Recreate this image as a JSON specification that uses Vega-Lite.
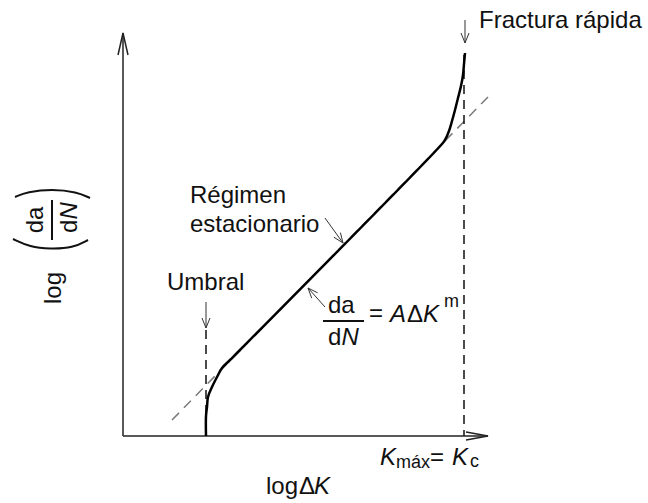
{
  "$schema": "https://vega.github.io/schema/vega-lite/v6.json",
  "width": 648,
  "height": 503,
  "autosize": {"type": "fit", "contains": "padding"},
  "padding": 0,
  "background": "white",
  "config": {"view": {"stroke": null}, "text": {"font": "Liberation Sans", "color": "#111"}},
  "datasets": {
    "paths": [
      {"kind": "curve", "id": "c", "i": 0, "u": 83, "v": 0},
      {"kind": "curve", "id": "c", "i": 1, "u": 83, "v": 20},
      {"kind": "curve", "id": "c", "i": 2, "u": 84, "v": 29},
      {"kind": "curve", "id": "c", "i": 3, "u": 85, "v": 39},
      {"kind": "curve", "id": "c", "i": 4, "u": 89, "v": 49},
      {"kind": "curve", "id": "c", "i": 5, "u": 94, "v": 59},
      {"kind": "curve", "id": "c", "i": 6, "u": 99, "v": 68},
      {"kind": "curve", "id": "c", "i": 7, "u": 107, "v": 76},
      {"kind": "curve", "id": "c", "i": 8, "u": 117, "v": 86},
      {"kind": "curve", "id": "c", "i": 9, "u": 319, "v": 292},
      {"kind": "curve", "id": "c", "i": 10, "u": 322, "v": 296},
      {"kind": "curve", "id": "c", "i": 11, "u": 326, "v": 305},
      {"kind": "curve", "id": "c", "i": 12, "u": 329, "v": 315},
      {"kind": "curve", "id": "c", "i": 13, "u": 332, "v": 326},
      {"kind": "curve", "id": "c", "i": 14, "u": 335, "v": 338},
      {"kind": "curve", "id": "c", "i": 15, "u": 338, "v": 350},
      {"kind": "curve", "id": "c", "i": 16, "u": 340, "v": 361},
      {"kind": "curve", "id": "c", "i": 17, "u": 341, "v": 372},
      {"kind": "curve", "id": "c", "i": 18, "u": 342, "v": 383},

      {"kind": "axis", "id": "yax", "i": 0, "u": 0, "v": 0},
      {"kind": "axis", "id": "yax", "i": 1, "u": 0, "v": 403},
      {"kind": "axis", "id": "yhead", "i": 0, "u": -5, "v": 381},
      {"kind": "axis", "id": "yhead", "i": 1, "u": 0, "v": 403},
      {"kind": "axis", "id": "yhead", "i": 2, "u": 5, "v": 381},
      {"kind": "axis", "id": "xax", "i": 0, "u": 0, "v": 0},
      {"kind": "axis", "id": "xax", "i": 1, "u": 365, "v": 0},
      {"kind": "axis", "id": "xhead", "i": 0, "u": 343, "v": 4},
      {"kind": "axis", "id": "xhead", "i": 1, "u": 365, "v": 0},
      {"kind": "axis", "id": "xhead", "i": 2, "u": 343, "v": -4},

      {"kind": "arrow", "id": "a1", "i": 0, "u": 83, "v": 134},
      {"kind": "arrow", "id": "a1", "i": 1, "u": 83, "v": 108},
      {"kind": "arrow", "id": "a1h", "i": 0, "u": 79, "v": 118},
      {"kind": "arrow", "id": "a1h", "i": 1, "u": 83, "v": 108},
      {"kind": "arrow", "id": "a1h", "i": 2, "u": 87, "v": 118},
      {"kind": "arrow", "id": "a2", "i": 0, "u": 342, "v": 416},
      {"kind": "arrow", "id": "a2", "i": 1, "u": 342, "v": 393},
      {"kind": "arrow", "id": "a2h", "i": 0, "u": 338, "v": 403},
      {"kind": "arrow", "id": "a2h", "i": 1, "u": 342, "v": 393},
      {"kind": "arrow", "id": "a2h", "i": 2, "u": 346, "v": 403},
      {"kind": "arrow", "id": "a3", "i": 0, "u": 202, "v": 218},
      {"kind": "arrow", "id": "a3", "i": 1, "u": 220, "v": 193},
      {"kind": "arrow", "id": "a3h", "i": 0, "u": 217.4, "v": 203.4},
      {"kind": "arrow", "id": "a3h", "i": 1, "u": 220, "v": 193},
      {"kind": "arrow", "id": "a3h", "i": 2, "u": 210.9, "v": 198.8},
      {"kind": "arrow", "id": "a4", "i": 0, "u": 202, "v": 129},
      {"kind": "arrow", "id": "a4", "i": 1, "u": 185, "v": 148},
      {"kind": "arrow", "id": "a4h", "i": 0, "u": 194.6, "v": 143.2},
      {"kind": "arrow", "id": "a4h", "i": 1, "u": 185, "v": 148},
      {"kind": "arrow", "id": "a4h", "i": 2, "u": 188.7, "v": 137.9},

      {"kind": "dash", "id": "d1", "i": 0, "u": 83, "v": 106},
      {"kind": "dash", "id": "d1", "i": 1, "u": 83, "v": 0},
      {"kind": "dash", "id": "d2", "i": 0, "u": 341, "v": 381},
      {"kind": "dash", "id": "d2", "i": 1, "u": 341, "v": 0},

      {"kind": "gray", "id": "g1", "i": 0, "u": 49, "v": 16},
      {"kind": "gray", "id": "g1", "i": 1, "u": 365, "v": 339},

      {"kind": "paren", "id": "p1", "i": 0, "u": -110, "v": 197},
      {"kind": "paren", "id": "p1", "i": 1, "u": -93, "v": 189},
      {"kind": "paren", "id": "p1", "i": 2, "u": -73, "v": 187},
      {"kind": "paren", "id": "p1", "i": 3, "u": -50, "v": 188},
      {"kind": "paren", "id": "p1", "i": 4, "u": -35, "v": 196},
      {"kind": "paren", "id": "p2", "i": 0, "u": -108, "v": 239},
      {"kind": "paren", "id": "p2", "i": 1, "u": -96, "v": 244},
      {"kind": "paren", "id": "p2", "i": 2, "u": -71, "v": 247},
      {"kind": "paren", "id": "p2", "i": 3, "u": -46, "v": 244},
      {"kind": "paren", "id": "p2", "i": 4, "u": -33, "v": 238},

      {"kind": "bar", "id": "b1", "i": 0, "u": 200, "v": 115},
      {"kind": "bar", "id": "b1", "i": 1, "u": 241, "v": 115},
      {"kind": "bar", "id": "b2", "i": 0, "u": -71, "v": 236},
      {"kind": "bar", "id": "b2", "i": 1, "u": -71, "v": 196}
    ],
    "labels": [
      {"t": "Fractura rápida", "u": 356, "v": 408, "role": "plain"},
      {"t": "Régimen", "u": 67, "v": 233, "role": "plain"},
      {"t": "estacionario", "u": 67, "v": 204, "role": "plain"},
      {"t": "Umbral", "u": 44, "v": 146, "role": "plain"},
      {"t": "da", "u": 205, "v": 123, "role": "plain"},
      {"t": "d", "u": 205, "v": 91, "role": "plain"},
      {"t": "N", "u": 218.5, "v": 91, "role": "italic"},
      {"t": "=", "u": 246, "v": 115, "role": "plain"},
      {"t": "A", "u": 267, "v": 114, "role": "italic"},
      {"t": "Δ", "u": 284, "v": 114, "role": "plain"},
      {"t": "K", "u": 300, "v": 114, "role": "italic"},
      {"t": "m", "u": 321, "v": 129, "role": "small"},
      {"t": "K", "u": 257, "v": -29, "role": "italic"},
      {"t": "máx", "u": 273, "v": -32, "role": "small"},
      {"t": "=", "u": 307, "v": -29, "role": "plain"},
      {"t": "K", "u": 329, "v": -29, "role": "italic"},
      {"t": "c", "u": 347, "v": -31, "role": "small"},
      {"t": "log", "u": 143, "v": -58, "role": "plain"},
      {"t": "Δ", "u": 176, "v": -58, "role": "plain"},
      {"t": "K", "u": 191, "v": -58, "role": "italic"},
      {"t": "log", "u": -62, "v": 148, "role": "rotc"},
      {"t": "da", "u": -80, "v": 216, "role": "rotc"},
      {"t": "d", "u": -46, "v": 203, "role": "rotl"},
      {"t": "N", "u": -46, "v": 216.5, "role": "rotli"}
    ]
  },
  "encoding": {
    "x": {"field": "u", "type": "quantitative", "scale": {"domain": [-123, 525], "nice": false, "zero": false}, "axis": null},
    "y": {"field": "v", "type": "quantitative", "scale": {"domain": [-67, 436], "nice": false, "zero": false}, "axis": null}
  },
  "layer": [
    {
      "data": {"name": "paths"},
      "transform": [{"filter": "datum.kind === 'gray'"}],
      "mark": {"type": "line", "color": "#7a7a7a", "strokeWidth": 1.5, "strokeDash": [10, 7]},
      "encoding": {"detail": {"field": "id"}, "order": {"field": "i"}}
    },
    {
      "data": {"name": "paths"},
      "transform": [{"filter": "datum.kind === 'dash'"}],
      "mark": {"type": "line", "color": "#111", "strokeWidth": 1.5, "strokeDash": [9, 6]},
      "encoding": {"detail": {"field": "id"}, "order": {"field": "i"}}
    },
    {
      "data": {"name": "paths"},
      "transform": [{"filter": "datum.kind === 'axis'"}],
      "mark": {"type": "line", "color": "#222", "strokeWidth": 1.5},
      "encoding": {"detail": {"field": "id"}, "order": {"field": "i"}}
    },
    {
      "data": {"name": "paths"},
      "transform": [{"filter": "datum.kind === 'arrow'"}],
      "mark": {"type": "line", "color": "#333", "strokeWidth": 1},
      "encoding": {"detail": {"field": "id"}, "order": {"field": "i"}}
    },
    {
      "data": {"name": "paths"},
      "transform": [{"filter": "datum.kind === 'paren'"}],
      "mark": {"type": "line", "color": "#111", "strokeWidth": 2, "interpolate": "basis"},
      "encoding": {"detail": {"field": "id"}, "order": {"field": "i"}}
    },
    {
      "data": {"name": "paths"},
      "transform": [{"filter": "datum.kind === 'bar'"}],
      "mark": {"type": "line", "color": "#111", "strokeWidth": 2},
      "encoding": {"detail": {"field": "id"}, "order": {"field": "i"}}
    },
    {
      "data": {"name": "paths"},
      "transform": [{"filter": "datum.kind === 'curve'"}],
      "mark": {"type": "line", "color": "#000", "strokeWidth": 2.5, "interpolate": "catmull-rom"},
      "encoding": {"detail": {"field": "id"}, "order": {"field": "i"}}
    },
    {
      "data": {"name": "labels"},
      "transform": [{"filter": "datum.role === 'plain'"}],
      "mark": {"type": "text", "fontSize": 24, "align": "left", "baseline": "alphabetic"},
      "encoding": {"text": {"field": "t"}}
    },
    {
      "data": {"name": "labels"},
      "transform": [{"filter": "datum.role === 'italic'"}],
      "mark": {"type": "text", "fontSize": 24, "fontStyle": "italic", "align": "left", "baseline": "alphabetic"},
      "encoding": {"text": {"field": "t"}}
    },
    {
      "data": {"name": "labels"},
      "transform": [{"filter": "datum.role === 'small'"}],
      "mark": {"type": "text", "fontSize": 18, "align": "left", "baseline": "alphabetic"},
      "encoding": {"text": {"field": "t"}}
    },
    {
      "data": {"name": "labels"},
      "transform": [{"filter": "datum.role === 'rotc'"}],
      "mark": {"type": "text", "fontSize": 24, "angle": 270, "align": "center", "baseline": "alphabetic"},
      "encoding": {"text": {"field": "t"}}
    },
    {
      "data": {"name": "labels"},
      "transform": [{"filter": "datum.role === 'rotl'"}],
      "mark": {"type": "text", "fontSize": 24, "angle": 270, "align": "left", "baseline": "alphabetic"},
      "encoding": {"text": {"field": "t"}}
    },
    {
      "data": {"name": "labels"},
      "transform": [{"filter": "datum.role === 'rotli'"}],
      "mark": {"type": "text", "fontSize": 24, "fontStyle": "italic", "angle": 270, "align": "left", "baseline": "alphabetic"},
      "encoding": {"text": {"field": "t"}}
    }
  ]
}
